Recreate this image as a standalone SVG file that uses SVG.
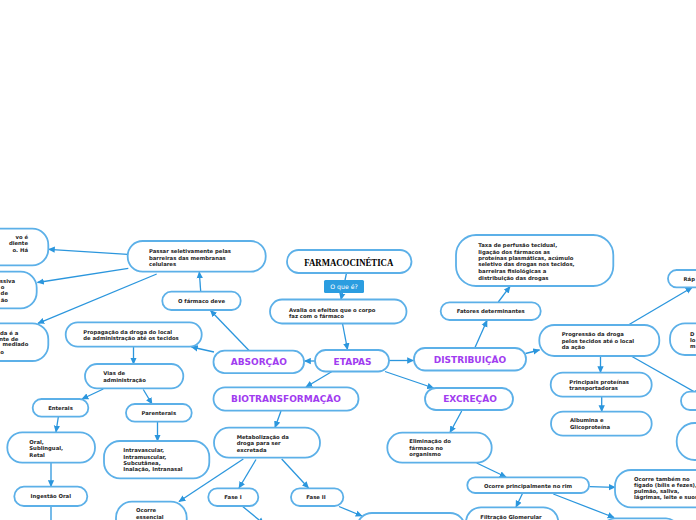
<svg xmlns="http://www.w3.org/2000/svg" width="696" height="520" viewBox="0 0 696 520">
<defs>
<marker id="arr" viewBox="0 0 10 10" refX="9" refY="5" markerWidth="7" markerHeight="7" markerUnits="userSpaceOnUse" orient="auto">
<path d="M0,0.5 L10,5 L0,9.5 z" fill="#2b96dd"/>
</marker>
<style>
.n{fill:#fff;stroke:#5cb0e8;stroke-width:1.8}
.c{fill:none;stroke:#2b96dd;stroke-width:1.3;marker-end:url(#arr)}
.t{font-family:"DejaVu Sans",Verdana,sans-serif;font-weight:bold;font-size:5.3px;fill:#262626}
.m{text-anchor:middle}
.e{text-anchor:end}
.h{font-family:"DejaVu Sans",Verdana,sans-serif;font-weight:bold;font-size:9px;fill:#a13cf0;text-anchor:middle}
</style>
</defs>
<rect width="696" height="520" fill="#fff"/>
<g id="connectors">
<path class="c" d="M346.5,273 L341,299.5"/>
<path class="c" d="M342.5,323.5 L347.5,349.5"/>
<path class="c" d="M315,361 L304.5,361"/>
<path class="c" d="M389,360.5 L413.5,360.5"/>
<path class="c" d="M332,371.5 L306,387"/>
<path class="c" d="M385,371.5 L433.5,388"/>
<path class="c" d="M249,350.5 L210.5,310.5"/>
<path class="c" d="M200.7,291.5 L199.3,272"/>
<path class="c" d="M127.7,254.3 L48.5,249.3"/>
<path class="c" d="M128.3,268.3 L37.5,282.5"/>
<path class="c" d="M156.7,274 L38,323.3"/>
<path class="c" d="M214,352 L191.5,347"/>
<path class="c" d="M133.5,347 L133.5,364"/>
<path class="c" d="M103.3,389 L82,399"/>
<path class="c" d="M143.3,389.5 L152,404"/>
<path class="c" d="M58.3,417 L56,432"/>
<path class="c" d="M157.5,422 L157.5,441"/>
<path class="c" d="M51,463 L51,486.5"/>
<path class="c" d="M51,506 L51,530"/>
<path class="c" d="M281,411 L275,427.5"/>
<path class="c" d="M243.3,459 L179,501.5"/>
<path class="c" d="M256,459.5 L239,488"/>
<path class="c" d="M281.7,459 L308.5,488"/>
<path class="c" d="M242.7,506.5 L264,524"/>
<path class="c" d="M339,506.5 L362,516"/>
<path class="c" d="M461.7,411 L450,432.5"/>
<path class="c" d="M476.7,463 L506,477"/>
<path class="c" d="M589.5,486.7 L615,487.3"/>
<path class="c" d="M522.7,493 L516,507"/>
<path class="c" d="M553.3,494 L614,517.5"/>
<path class="c" d="M475,347.5 L487,320.5"/>
<path class="c" d="M498.3,302 L510,286.5"/>
<path class="c" d="M525.5,353.5 L539.5,350"/>
<path class="c" d="M628.3,325 L692,287.5"/>
<path class="c" d="M600.5,356.5 L600.5,372.5"/>
<path class="c" d="M601.7,397 L601.7,411.5"/>
<path class="c" d="M632,356.5 L700,395"/>
</g>
<g id="farmacocinetica">
<rect class="n" x="287" y="250" width="124.5" height="23" rx="11.5"/>
<text x="348.8" y="266" font-family="'Liberation Serif',serif" font-weight="bold" font-size="11" fill="#000" text-anchor="middle" textLength="89" lengthAdjust="spacingAndGlyphs">FARMACOCINÉTICA</text>
</g>
<g id="oque">
<rect x="324" y="280" width="40" height="13" rx="1.5" fill="#2b9de0"/>
<text x="344" y="289" font-family="'DejaVu Sans',sans-serif" font-size="6.2" fill="#fff" text-anchor="middle">O que é?</text>
</g>
<g id="avalia">
<rect class="n" x="270" y="299.5" width="136.5" height="24" rx="12"/>
<text class="t" x="289" y="311.8">Avalia os efeitos que o corpo</text>
<text class="t" x="289" y="317.6">faz com o fármaco</text>
</g>
<g id="etapas">
<rect class="n" x="315" y="350" width="74" height="21.5" rx="10.75"/>
<text class="h" x="352.5" y="364.5">ETAPAS</text>
</g>
<g id="absorcao">
<rect class="n" x="213.5" y="350.7" width="90.5" height="22.5" rx="11"/>
<text class="h" x="258.8" y="365">ABSORÇÃO</text>
</g>
<g id="biotransformacao">
<rect class="n" x="213.5" y="387.3" width="145" height="23.3" rx="11.5"/>
<text class="h" x="286" y="402.3">BIOTRANSFORMAÇÃO</text>
</g>
<g id="distribuicao">
<rect class="n" x="414" y="348" width="112" height="22.5" rx="11"/>
<text class="h" x="470" y="362.7">DISTRIBUIÇÃO</text>
</g>
<g id="excrecao">
<rect class="n" x="425" y="388" width="88" height="22" rx="11"/>
<text class="h" x="470" y="402.3">EXCREÇÃO</text>
</g>
<g id="farmaco-deve">
<rect class="n" x="162.3" y="291.7" width="78.4" height="18.3" rx="9"/>
<text class="t m" x="201.5" y="302.8">O fármaco deve</text>
</g>
<g id="passar">
<rect class="n" x="127.7" y="241" width="138" height="30.7" rx="15"/>
<text class="t" x="149" y="252.8">Passar seletivamente pelas</text>
<text class="t" x="149" y="259.5">barreiras das membranas</text>
<text class="t" x="149" y="266.1">celulares</text>
</g>
<g id="node-a">
<rect class="n" x="-60" y="228.7" width="108.3" height="36.6" rx="16"/>
<text class="t e" x="28" y="238.8">vo é</text>
<text class="t e" x="28" y="245.1">diente</text>
<text class="t e" x="28" y="251.8">o. Há</text>
</g>
<g id="node-b">
<rect class="n" x="-60" y="271.7" width="96.7" height="36.6" rx="16"/>
<text class="t e" x="15" y="282.8">ssiva</text>
<text class="t e" x="4.5" y="288.8">o</text>
<text class="t e" x="8" y="294.5">de</text>
<text class="t e" x="8" y="301.8">ão</text>
</g>
<g id="node-c">
<rect class="n" x="-60" y="323.3" width="108.3" height="37.7" rx="16"/>
<text class="t e" x="18.3" y="334.5">da é a</text>
<text class="t e" x="18.3" y="340.5">nte de</text>
<text class="t e" x="28.3" y="346.1">mediado</text>
<text class="t e" x="3.8" y="353.8">o</text>
</g>
<g id="propagacao">
<rect class="n" x="65.7" y="322.3" width="136" height="24.4" rx="12"/>
<text class="t" x="83.3" y="334.1">Propagação da droga do local</text>
<text class="t" x="83.3" y="340.1">de administração até os tecidos</text>
</g>
<g id="vias">
<rect class="n" x="85" y="364" width="98.3" height="24.3" rx="12"/>
<text class="t" x="103.3" y="375.1">Vias de</text>
<text class="t" x="103.3" y="381.8">administração</text>
</g>
<g id="enterais">
<rect class="n" x="32.7" y="399" width="55.6" height="17.7" rx="8.8"/>
<text class="t m" x="60.5" y="410">Enterais</text>
</g>
<g id="parenterais">
<rect class="n" x="126" y="404" width="65.7" height="17.7" rx="8.8"/>
<text class="t m" x="158.8" y="415">Parenterais</text>
</g>
<g id="oral">
<rect class="n" x="7.3" y="432.3" width="87.7" height="30.4" rx="15"/>
<text class="t" x="29.3" y="443.5">Oral,</text>
<text class="t" x="29.3" y="450.1">Sublingual,</text>
<text class="t" x="29.3" y="456.8">Retal</text>
</g>
<g id="intravascular">
<rect class="n" x="104" y="441" width="105.3" height="37.3" rx="16"/>
<text class="t" x="123.3" y="451.8">Intravascular,</text>
<text class="t" x="123.3" y="458.8">Intramuscular,</text>
<text class="t" x="123.3" y="465.1">Subcutânea,</text>
<text class="t" x="123.3" y="471.1">Inalação, Intranasal</text>
</g>
<g id="ingestao">
<rect class="n" x="14.3" y="486.7" width="73" height="19.3" rx="9.6"/>
<text class="t m" x="50.8" y="497.8">Ingestão Oral</text>
</g>
<g id="ocorre-essencial">
<rect class="n" x="116" y="501.7" width="70.7" height="40" rx="16"/>
<text class="t" x="136" y="511.8">Ocorre</text>
<text class="t" x="136" y="518.5">essencial</text>
</g>
<g id="metabolizacao">
<rect class="n" x="214" y="427.7" width="106" height="30" rx="15"/>
<text class="t" x="236.7" y="438.5">Metabolização da</text>
<text class="t" x="236.7" y="445.1">droga para ser</text>
<text class="t" x="236.7" y="451.8">excretada</text>
</g>
<g id="fase1">
<rect class="n" x="208.3" y="488.3" width="50" height="17.7" rx="8.8"/>
<text class="t m" x="233" y="499">Fase I</text>
</g>
<g id="fase2">
<rect class="n" x="291" y="488.3" width="52.3" height="17.7" rx="8.8"/>
<text class="t m" x="316" y="499">Fase II</text>
</g>
<g id="fase2-alvo">
<rect class="n" x="357" y="513" width="108" height="30" rx="15"/>
</g>
<g id="eliminacao">
<rect class="n" x="387.3" y="432.7" width="104.4" height="30" rx="15"/>
<text class="t" x="409.3" y="442.8">Eliminação do</text>
<text class="t" x="409.3" y="449.5">fármaco no</text>
<text class="t" x="409.3" y="456.1">organismo</text>
</g>
<g id="ocorre-rim">
<rect class="n" x="467.3" y="477.3" width="121.7" height="15.7" rx="7.8"/>
<text class="t m" x="528" y="487.6">Ocorre principalmente no rim</text>
</g>
<g id="ocorre-tambem">
<rect class="n" x="615" y="470" width="120" height="37.3" rx="16"/>
<text class="t" x="634" y="481.1">Ocorre também no</text>
<text class="t" x="634" y="486.8">fígado (bílis e fezes),</text>
<text class="t" x="634" y="492.5">pulmão, saliva,</text>
<text class="t" x="634" y="498.5">lágrimas, leite e suor</text>
</g>
<g id="filtracao">
<rect class="n" x="466" y="507.3" width="92.3" height="30" rx="15"/>
<text class="t m" x="511" y="518.5">Filtração Glomerular</text>
</g>
<g id="rim-alvo">
<rect class="n" x="603" y="518.3" width="75" height="25" rx="12"/>
</g>
<g id="fatores">
<rect class="n" x="440.7" y="302.3" width="100" height="17.7" rx="8.8"/>
<text class="t m" x="490.7" y="313">Fatores determinantes</text>
</g>
<g id="taxa">
<rect class="n" x="456" y="235" width="157.3" height="51" rx="20"/>
<text class="t" x="478.3" y="246.8">Taxa de perfusão tecidual,</text>
<text class="t" x="478.3" y="253.5">ligação dos fármacos as</text>
<text class="t" x="478.3" y="260.1">proteínas plasmáticas, acúmulo</text>
<text class="t" x="478.3" y="266.1">seletivo das drogas nos tecidos,</text>
<text class="t" x="478.3" y="272.8">barreiras fisiológicas a</text>
<text class="t" x="478.3" y="279.5">distribuição das drogas</text>
</g>
<g id="progressao">
<rect class="n" x="539.3" y="325" width="120" height="31" rx="15"/>
<text class="t" x="561.7" y="336.1">Progressão da droga</text>
<text class="t" x="561.7" y="342.5">pelos tecidos até o local</text>
<text class="t" x="561.7" y="349.1">da ação</text>
</g>
<g id="principais">
<rect class="n" x="550.7" y="372.7" width="101" height="24" rx="12"/>
<text class="t" x="569.3" y="383.5">Principais proteínas</text>
<text class="t" x="569.3" y="390.1">transportadoras</text>
</g>
<g id="albumina">
<rect class="n" x="551" y="411.7" width="100.7" height="24" rx="12"/>
<text class="t" x="570" y="421.8">Albumina e</text>
<text class="t" x="570" y="428.5">Glicoproteína</text>
</g>
<g id="rap">
<rect class="n" x="668" y="270" width="60" height="17.3" rx="8.6"/>
<text class="t" x="683.5" y="281">Ráp</text>
</g>
<g id="node-d">
<rect class="n" x="670" y="323.3" width="60" height="31.7" rx="15"/>
<text class="t" x="690" y="336">D</text>
<text class="t" x="690" y="342">lo</text>
<text class="t" x="690" y="348">m</text>
</g>
<g id="node-e">
<rect class="n" x="681" y="391.7" width="50" height="18.3" rx="9"/>
</g>
<g id="node-f">
<rect class="n" x="676.7" y="423" width="60" height="37" rx="18"/>
</g>
</svg>
